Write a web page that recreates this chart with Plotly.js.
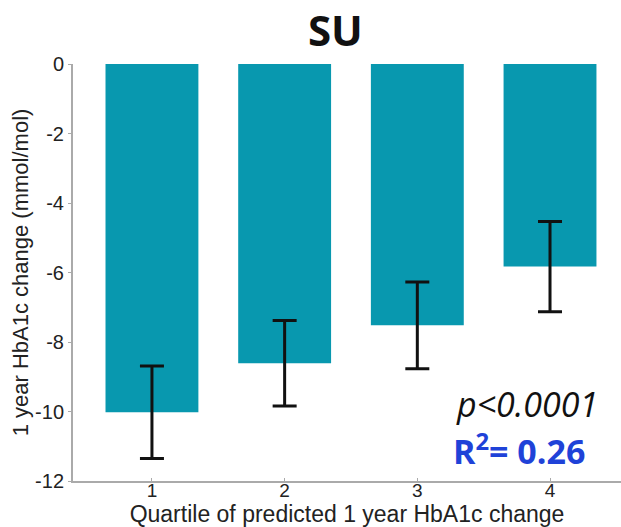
<!DOCTYPE html>
<html><head><meta charset="utf-8">
<script src="https://cdn.plot.ly/plotly-3.0.1.min.js"></script>
<style>html,body{margin:0;padding:0;background:#fff}</style>
</head><body><div id="chart" style="width:621px;height:527px"></div>
<script>
const quartiles = [1, 2, 3, 4];
const meanChange = [-10.02, -8.61, -7.52, -5.83];
const errorHalf = [1.33, 1.23, 1.25, 1.30];
const yTicks = [0, -2, -4, -6, -8, -10, -12];

const trace = {
  type: 'bar', x: quartiles, y: meanChange, width: 0.7,
  marker: {color: '#0898AF'},
  error_y: {type: 'data', array: errorHalf, visible: true, color: '#111', thickness: 3, width: 12}
};
const layout = {
  width: 621, height: 527,
  margin: {l: 73, r: 0, t: 64, b: 46},
  paper_bgcolor: '#fff', plot_bgcolor: '#fff',
  showlegend: false,
  title: {text: '<b>SU</b>', x: 0.54, xanchor: 'center', y: 0.94, yanchor: 'middle',
          font: {family: 'Open Sans, sans-serif', size: 42, color: '#111'}},
  xaxis: {range: [0.405, 4.535], tickvals: quartiles, ticktext: quartiles.map(String),
          showline: true, linecolor: '#aaa', linewidth: 2, ticks: 'inside', ticklen: 3, tickcolor: '#aaa',
          showgrid: false, zeroline: false, ticklabelstandoff: -9,
          tickfont: {family: 'Liberation Sans, Arial, sans-serif', size: 19, color: '#222'},
          title: {text: 'Quartile of predicted 1 year HbA1c change', standoff: 5,
                  font: {family: 'Liberation Sans, Arial, sans-serif', size: 23, color: '#222'}}},
  yaxis: {range: [-12, 0], tickvals: yTicks, ticktext: yTicks.map(String),
          showline: true, linecolor: '#aaa', linewidth: 2, ticks: 'outside', ticklen: 3, tickcolor: '#aaa',
          showgrid: false, zeroline: false,
          tickfont: {family: 'Liberation Sans, Arial, sans-serif', size: 20, color: '#222'},
          title: {text: '1 year HbA1c change (mmol/mol)', standoff: 0,
                  font: {family: 'Liberation Sans, Arial, sans-serif', size: 22, color: '#222'}}},
  annotations: [
    {xref: 'paper', yref: 'paper', x: 0.962, y: 0.185, xanchor: 'right', yanchor: 'middle', showarrow: false,
     text: '<i>p&lt;0.0001</i>', font: {family: 'Open Sans, sans-serif', size: 34, color: '#111'}},
    {xref: 'paper', yref: 'paper', x: 0.814, y: 0.076, xanchor: 'center', yanchor: 'middle', showarrow: false,
     text: '<b>R<sup>2</sup>= 0.26</b>', font: {family: 'Open Sans, sans-serif', size: 34, color: '#1F42D8'}}
  ]
};
Plotly.newPlot('chart', [trace], layout, {displayModeBar: false, staticPlot: true});
</script></body></html>
